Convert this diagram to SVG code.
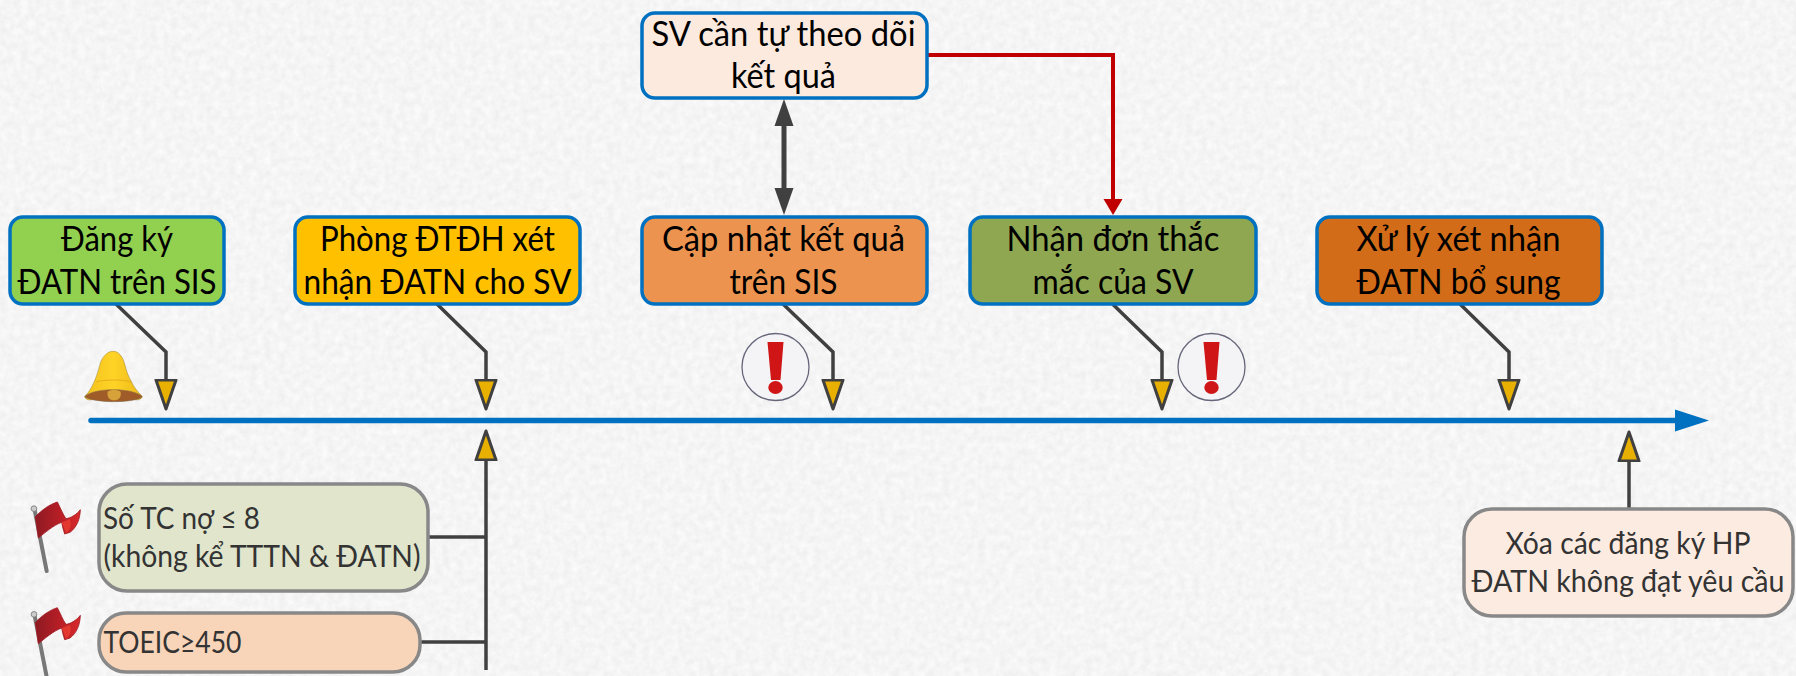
<svg xmlns="http://www.w3.org/2000/svg" width="1796" height="676" viewBox="0 0 1796 676">
<style>
text{font-family:Lato,"Noto Sans","Liberation Sans",sans-serif;text-anchor:middle;fill:#000;font-size:34px}
.s text{fill:#333;font-size:30px}
.s text.l{text-anchor:start}
.b{stroke:#0070C0;stroke-width:3.5}
.g{stroke:#888;stroke-width:3.5}
.c{fill:none;stroke:#404040;stroke-width:3.5}
.ex{fill:#f4f4f6;stroke:#66667a;stroke-width:1.3}
.r{fill:#CF1515}
</style>
<defs>
<filter id="paper" x="0" y="0" width="100%" height="100%" color-interpolation-filters="sRGB">
<feTurbulence type="fractalNoise" baseFrequency="0.14" numOctaves="3" seed="4"/>
<feColorMatrix values="0.07 0 0 0 0.925 0.07 0 0 0 0.925 0.07 0 0 0 0.925 0 0 0 0 1"/>
</filter>
<marker id="gold" markerUnits="userSpaceOnUse" markerWidth="34" markerHeight="26" refX="1" refY="13" orient="auto" viewBox="0 0 34 26">
<path d="M1,3 L30,13 L1,23Z" fill="#E8B000" stroke="#404040" stroke-width="3" stroke-linejoin="round"/>
</marker>
<marker id="dark" markerUnits="userSpaceOnUse" markerWidth="28" markerHeight="20" refX="0" refY="10" orient="auto" viewBox="0 0 28 20">
<path d="M0,0.5 L27,10 L0,19.500Z" fill="#404040"/>
</marker>
<marker id="darkS" markerUnits="userSpaceOnUse" markerWidth="28" markerHeight="20" refX="27" refY="10" orient="auto" viewBox="0 0 28 20">
<path d="M27,0.5 L0,10 L27,19.500Z" fill="#404040"/>
</marker>
<marker id="red" markerUnits="userSpaceOnUse" markerWidth="18" markerHeight="20" refX="0" refY="10" orient="auto" viewBox="0 0 18 20">
<path d="M0,0.500 L16,10 L0,19.500Z" fill="#C00000"/>
</marker>
<marker id="blue" markerUnits="userSpaceOnUse" markerWidth="36" markerHeight="24" refX="0" refY="12" orient="auto" viewBox="0 0 36 24">
<path d="M0,1 L34,12 L0,23Z" fill="#0070C0"/>
</marker>
<linearGradient id="bellG" x1="0" y1="0" x2="1" y2="0"><stop offset="0" stop-color="#F2C21E"/><stop offset=".5" stop-color="#FFD326"/><stop offset="1" stop-color="#EDB91A"/></linearGradient>
<linearGradient id="flagG" x1="0" y1="0" x2="1" y2="0"><stop offset="0" stop-color="#8E1A22"/><stop offset=".55" stop-color="#B81E26"/><stop offset="1" stop-color="#D92A2C"/></linearGradient>
<g id="flag">
<path d="M43,55 L80,243" stroke="#777" stroke-width="12" stroke-linecap="round" fill="none"/>
<circle cx="42" cy="56" r="8.500" fill="#ccc" stroke="#777" stroke-width="2.500"/>
<path d="M46,80 C68,58 88,44 112,36 C122,55 128,72 138,86 C152,84 170,74 181,59 C180,88 170,112 150,127 L134,132 C130,120 127,108 125,97 C100,106 78,126 55,144Z" fill="url(#flagG)" stroke="#A01820" stroke-width="2.500"/>
<path d="M125,97 C135,94 142,90 150,88 C156,102 152,117 138,130" fill="#E2382F"/>
</g>
<g id="excl">
<circle cx="0" cy="0" r="33.500" class="ex"/>
<path d="M-8,-25 L8,-25 L5,13 L-4.500,13Z" class="r"/>
<ellipse cx="0" cy="20.500" rx="7.200" ry="6.500" class="r"/>
</g>
</defs>
<rect width="1796" height="676" fill="#f5f5f5"/>
<rect width="1796" height="676" filter="url(#paper)"/>

<g id="connectors">
<path d="M91,420.500 H1675" fill="none" stroke="#0070C0" stroke-width="5.500" stroke-linecap="round" marker-end="url(#blue)"/>
<path class="c" d="M116,304 L166,352 V380" marker-end="url(#gold)"/>
<path class="c" d="M437,304 L486,352 V380" marker-end="url(#gold)"/>
<path class="c" d="M783,304 L833,352 V380" marker-end="url(#gold)"/>
<path class="c" d="M1112.500,304 L1162,352 V380" marker-end="url(#gold)"/>
<path class="c" d="M1460,304 L1509,352 V380" marker-end="url(#gold)"/>
<path class="c" d="M486,670 V460" marker-end="url(#gold)"/>
<path class="c" d="M1629,508 V461" marker-end="url(#gold)"/>
<path class="c" d="M428,537 H486"/>
<path class="c" d="M420,642 H486"/>
<path d="M784,126 V188" fill="none" stroke="#404040" stroke-width="5" marker-start="url(#darkS)" marker-end="url(#dark)"/>
<path d="M927,55 H1113 V199" fill="none" stroke="#C00000" stroke-width="4" marker-end="url(#red)"/>
</g>

<g id="node-top"><rect class="b" x="642" y="13" width="285" height="85" rx="13" fill="#FCEADF"/><text x="783.500" y="46" textLength="264" lengthAdjust="spacingAndGlyphs">SV cần tự theo dõi</text><text x="783.500" y="88" textLength="105" lengthAdjust="spacingAndGlyphs">kết quả</text></g>
<g id="node-1"><rect class="b" x="10" y="217" width="214" height="87" rx="13" fill="#92D050"/><text x="117" y="251" textLength="112" lengthAdjust="spacingAndGlyphs">Đăng ký</text><text x="117" y="294" textLength="199" lengthAdjust="spacingAndGlyphs">ĐATN trên SIS</text></g>
<g id="node-2"><rect class="b" x="295" y="217" width="285" height="87" rx="13" fill="#FFC000"/><text x="437.500" y="251" textLength="235" lengthAdjust="spacingAndGlyphs">Phòng ĐTĐH xét</text><text x="437.500" y="294" textLength="268" lengthAdjust="spacingAndGlyphs">nhận ĐATN cho SV</text></g>
<g id="node-3"><rect class="b" x="642" y="217" width="285" height="87" rx="13" fill="#EC944F"/><text x="783.500" y="251" textLength="243" lengthAdjust="spacingAndGlyphs">Cập nhật kết quả</text><text x="783.500" y="294" textLength="108" lengthAdjust="spacingAndGlyphs">trên SIS</text></g>
<g id="node-4"><rect class="b" x="970" y="217" width="286" height="87" rx="13" fill="#8FA750"/><text x="1113" y="251" textLength="213" lengthAdjust="spacingAndGlyphs">Nhận đơn thắc</text><text x="1113" y="294" textLength="161" lengthAdjust="spacingAndGlyphs">mắc của SV</text></g>
<g id="node-5"><rect class="b" x="1317" y="217" width="285" height="87" rx="13" fill="#D26C18"/><text x="1458.500" y="251" textLength="204" lengthAdjust="spacingAndGlyphs">Xử lý xét nhận</text><text x="1458.500" y="294" textLength="204" lengthAdjust="spacingAndGlyphs">ĐATN bổ sung</text></g>
<g id="node-sotc" class="s"><rect class="g" x="99" y="484" width="329" height="107" rx="28" fill="#E0E5CC"/><text class="l" x="103" y="529" textLength="157" lengthAdjust="spacingAndGlyphs">Số TC nợ ≤ 8</text><text class="l" x="103.500" y="567" textLength="317" lengthAdjust="spacingAndGlyphs">(không kể TTTN &amp; ĐATN)</text></g>
<g id="node-toeic" class="s"><rect class="g" x="99" y="613" width="321" height="59" rx="27" fill="#F8D4B8"/><text class="l" x="103.500" y="653" textLength="138" lengthAdjust="spacingAndGlyphs">TOEIC≥450</text></g>
<g id="node-xoa" class="s"><rect class="g" x="1464" y="509" width="329" height="107" rx="28" fill="#FCEBE0"/><text x="1628" y="554" textLength="245" lengthAdjust="spacingAndGlyphs">Xóa các đăng ký HP</text><text x="1628" y="592" textLength="313" lengthAdjust="spacingAndGlyphs">ĐATN không đạt yêu cầu</text></g>

<g id="icon-bell" transform="translate(70,340) scale(.3333)">
<path d="M112,40 C120,32 138,32 146,40 C156,48 160,58 165,75 C172,105 190,145 216,168 C218,176 205,183 190,178 L70,178 C55,183 42,176 45,168 C65,150 80,110 88,80 C93,60 100,48 112,40Z" fill="url(#bellG)" stroke="#9a8240" stroke-width="1.500"/>
<path d="M78,126 C105,118 155,118 186,126" fill="none" stroke="#E0A818" stroke-width="2.500"/>
<path d="M44,170 C70,142 190,142 217,170 C195,190 70,190 44,170Z" fill="#A05C28" stroke="#7a6a50" stroke-width="1.500"/>
<path d="M113,155 C120,148 145,148 152,155 C155,172 145,181 132,181 C120,181 110,172 113,155Z" fill="#D8A23A"/>
</g>
<use id="icon-flag-1" href="#flag" transform="translate(20,490) scale(.3333)"/>
<use id="icon-flag-2" href="#flag" transform="translate(20,595.700) scale(.3333)"/>
<use id="icon-excl-1" href="#excl" x="775.500" y="367"/>
<use id="icon-excl-2" href="#excl" x="1211.500" y="367"/>
</svg>
